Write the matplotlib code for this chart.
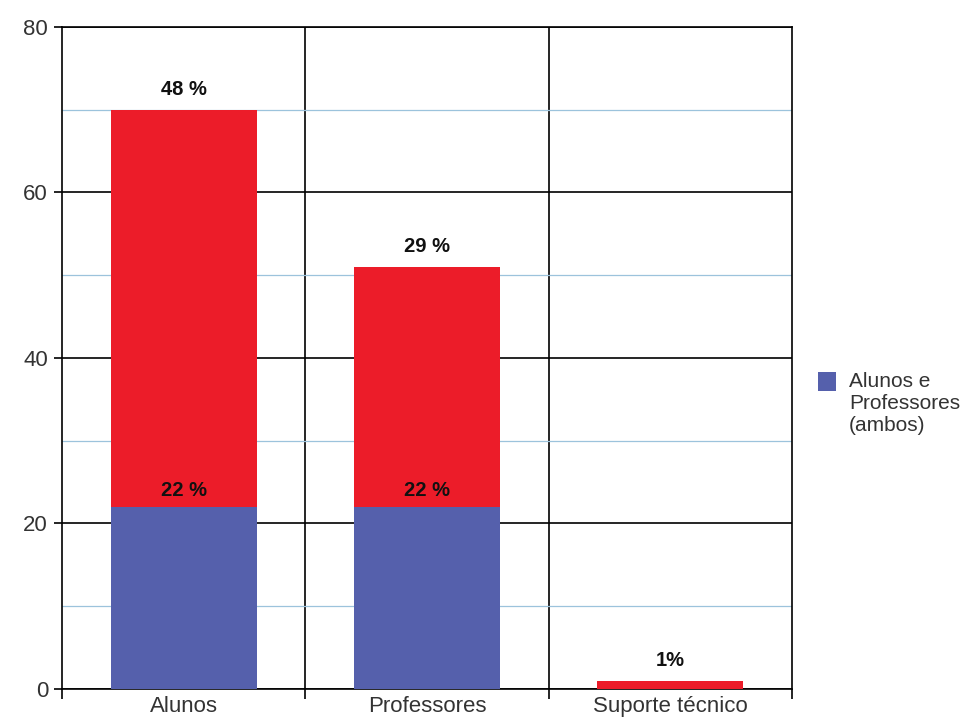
import matplotlib
matplotlib.use("Agg")
import matplotlib.pyplot as plt
from matplotlib.patches import Rectangle
import numpy as np

categories = ["Alunos", "Professores", "Suporte técnico"]
ambos = [22, 22, 0]
exclusivo = [48, 29, 1]
ambos_labels = ["22 %", "22 %", None]
excl_labels = ["48 %", "29 %", "1%"]
legend_label = "Alunos e\nProfessores\n(ambos)"

plt.rcParams['font.family'] = ['Liberation Sans', 'DejaVu Sans']

blue = "#5560AC"
red = "#EC1C29"

fig = plt.figure(figsize=(9.75, 7.22), dpi=100)
ax = fig.add_axes([0.0636, 0.0457, 0.7487, 0.917])

x = np.arange(len(categories))
w = 0.6
ax.bar(x, ambos, w, color=blue, zorder=3)
ax.bar(x, exclusivo, w, bottom=ambos, color=red, zorder=3)

for i in range(len(categories)):
    top = ambos[i] + exclusivo[i]
    ax.annotate(excl_labels[i], (x[i], top), xytext=(0, 8), textcoords="offset points",
                ha="center", va="bottom", fontsize=14.5, fontweight="bold", color="#111111", zorder=4)
    if ambos_labels[i]:
        ax.annotate(ambos_labels[i], (x[i], ambos[i]), xytext=(0, 5), textcoords="offset points",
                    ha="center", va="bottom", fontsize=14.5, fontweight="bold", color="#111111", zorder=4)

ax.set_xlim(-0.5, len(categories) - 0.5)
ax.set_ylim(0, 80)
ax.set_yticks([0, 20, 40, 60, 80])
ax.set_yticks([10, 30, 50, 70], minor=True)
ax.set_xticks(x)
ax.set_xticklabels(categories, fontsize=16)
ax.set_xticks([-0.5, 0.5, 1.5, 2.5], minor=True)

ax.grid(axis="y", which="major", color="black", linewidth=1.2, zorder=1)
ax.grid(axis="y", which="minor", color="#9cc3dc", linewidth=0.9, zorder=1)
for s in [0.5, 1.5]:
    ax.axvline(s, color="black", linewidth=1.2, zorder=1)

ax.tick_params(axis="y", which="major", labelsize=16, length=6, width=1.2, color="black", pad=4)
ax.tick_params(axis="y", which="minor", length=0)
ax.tick_params(axis="x", which="major", length=0, labelsize=16, pad=5)
ax.tick_params(axis="x", which="minor", length=7, width=1.2, direction="out")
for sp in ax.spines.values():
    sp.set_color("black")
    sp.set_linewidth(1.2)
for t in ax.get_yticklabels() + ax.get_xticklabels():
    t.set_color("#333333")

# legend (single entry, square aligned with first text line)
fig.patches.append(Rectangle((818 / 975, 1 - 391 / 722), 18 / 975, 19 / 722,
                             transform=fig.transFigure, facecolor=blue, edgecolor="none"))
fig.text(849 / 975, 1 - 372 / 722, legend_label, ha="left", va="top", fontsize=15,
         linespacing=1.2, color="#333333")

fig.savefig("out.png", dpi=100)
